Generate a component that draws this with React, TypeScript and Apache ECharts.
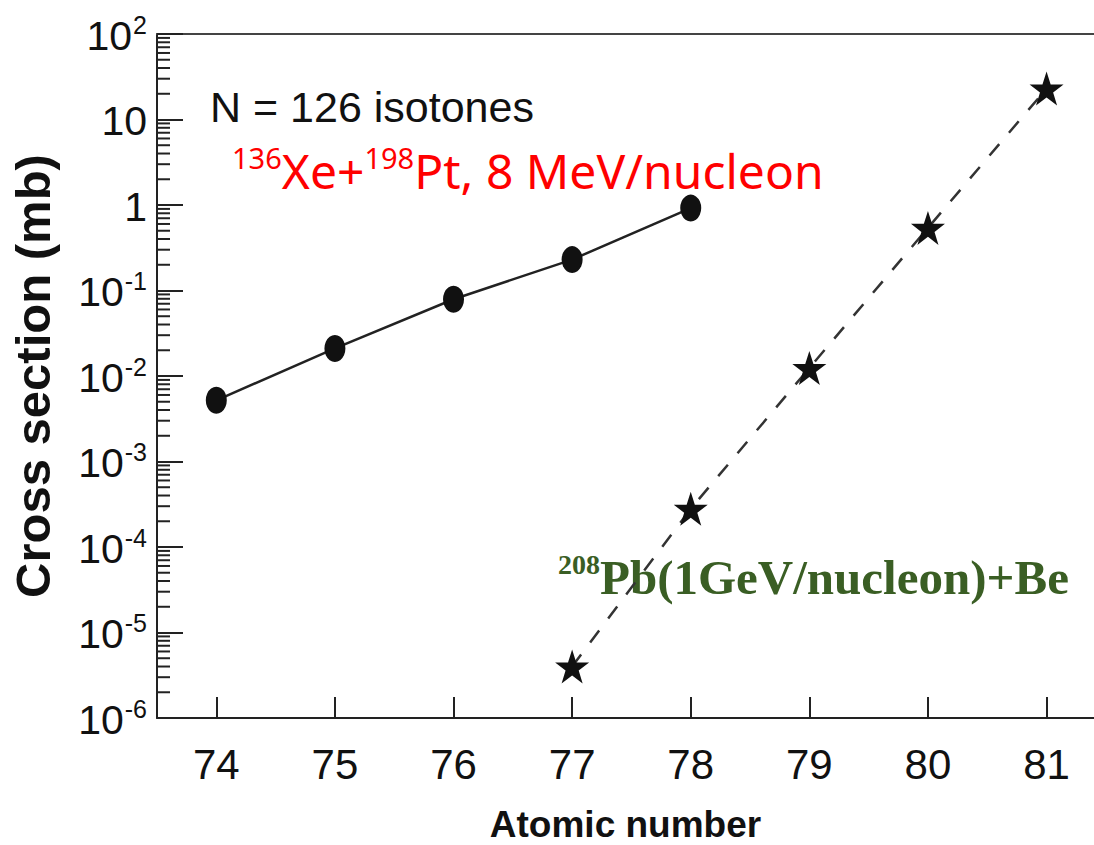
import React, { useEffect, useRef } from "react";
import * as echarts from "echarts";

const X_MIN = 73.5;
const X_MAX = 81.4;
const xTicks = [74, 75, 76, 77, 78, 79, 80, 81];
const yMin = 1e-6;
const yMax = 100;
const decadeExps = [-6, -5, -4, -3, -2, -1, 0, 1];

const xeZ = [74, 75, 76, 77, 78];
const xeSigma = [0.0052, 0.021, 0.079, 0.23, 0.92];

const pbZ = [77, 78, 79, 80, 81];
const pbSigma = [4.0e-6, 2.8e-4, 0.0124, 0.54, 23];

const STAR =
  "path://M50,0 L61.8,35.2 L98.9,35.2 L68.9,57.1 L80.3,92.4 L50,70.6 L19.7,92.4 L31.1,57.1 L1.1,35.2 L38.2,35.2 Z";

const SANS = "'Liberation Sans', Arial, sans-serif";
const AX = "#222";

function yLabel(v: number): string {
  const e = Math.round(Math.log10(v));
  if (e === 0) return "{b|1}";
  if (e === 1) return "{b|10}";
  return "{b|10}{s|" + e + "}";
}

export default function App() {
  const ref = useRef<HTMLDivElement>(null);
  useEffect(() => {
    if (!ref.current) return;
    const chart = echarts.init(ref.current, null, { renderer: "svg" });
    const minorData: number[][] = [];
    decadeExps.forEach((e) => {
      for (let m = 2; m <= 9; m++) minorData.push([X_MIN, m * Math.pow(10, e)]);
    });
    chart.setOption({
      animation: false,
      backgroundColor: "#ffffff",
      grid: { left: 157, top: 34, right: 0, bottom: 127, containLabel: false, outerBoundsMode: "none" },
      xAxis: [
        {
          type: "value",
          min: X_MIN,
          max: X_MAX,
          position: "bottom",
          axisLine: { show: true, lineStyle: { color: AX, width: 2 } },
          axisTick: {
            show: true,
            inside: true,
            length: 21,
            customValues: xTicks,
            lineStyle: { color: AX, width: 2 },
          },
          axisLabel: {
            show: true,
            customValues: xTicks,
            margin: 25,
            fontFamily: SANS,
            fontSize: 42,
            color: "#111",
            formatter: (v: number) => String(v),
          },
          splitLine: { show: false },
          name: "Atomic number",
          nameLocation: "middle",
          nameGap: 88,
          nameTextStyle: {
            fontFamily: SANS,
            fontWeight: "bold",
            fontSize: 37,
            color: "#111",
          },
        },
        {
          type: "value",
          min: X_MIN,
          max: X_MAX,
          position: "top",
          axisLine: { show: true, onZero: false, lineStyle: { color: "#444", width: 2 } },
          axisTick: { show: false },
          axisLabel: { show: false },
          splitLine: { show: false },
        },
      ],
      yAxis: {
        type: "log",
        logBase: 10,
        min: yMin,
        max: yMax,
        axisLine: { show: true, lineStyle: { color: AX, width: 2 } },
        axisTick: { show: true, inside: true, length: 26, lineStyle: { color: AX, width: 2 } },
        minorTick: { show: false },
        splitLine: { show: false },
        axisLabel: {
          margin: 10,
          formatter: (v: number) => yLabel(v),
          rich: {
            b: { fontFamily: SANS, fontSize: 41, color: "#111", verticalAlign: "bottom", lineHeight: 44 },
            s: { fontFamily: SANS, fontSize: 25, color: "#111", verticalAlign: "top", lineHeight: 26, padding: [0, 0, 0, 1] },
          },
        },
        name: "Cross section (mb)",
        nameLocation: "middle",
        nameGap: 100,
        nameTextStyle: {
          fontFamily: SANS,
          fontWeight: "bold",
          fontSize: 49,
          color: "#111",
        },
      },
      series: [
        {
          type: "custom",
          silent: true,
          xAxisIndex: 0,
          data: minorData,
          clip: false,
          renderItem: (params: any, api: any) => {
            const p = api.coord([api.value(0), api.value(1)]);
            return {
              type: "line",
              shape: { x1: p[0], y1: p[1], x2: p[0] + 13, y2: p[1] },
              style: { stroke: AX, lineWidth: 2 },
            };
          },
        },
        {
          type: "line",
          xAxisIndex: 0,
          data: xeZ.map((z, i) => [z, xeSigma[i]]),
          symbol: "circle",
          symbolSize: [21, 27],
          itemStyle: { color: "#111" },
          lineStyle: { color: "#222", width: 2.5, type: "solid" },
          z: 3,
        },
        {
          type: "line",
          xAxisIndex: 0,
          data: pbZ.map((z, i) => [z, pbSigma[i]]),
          symbol: STAR,
          symbolSize: 34,
          itemStyle: { color: "#111" },
          lineStyle: { color: "#333", width: 2.5, type: [15, 15] },
          z: 3,
        },
      ],
      graphic: [
        {
          type: "text",
          x: 210,
          y: 85,
          style: {
            text: "N = 126 isotones",
            fontFamily: SANS,
            fontSize: 43,
            fill: "#111",
          },
        },
        {
          type: "text",
          x: 232,
          y: 143,
          style: {
            text: "{s|136}{m|Xe+}{s|198}{m|Pt, 8 MeV/nucleon}",
            rich: {
              s: { fontFamily: "'Noto Sans', sans-serif", fontSize: 29, fill: "#ff0000", verticalAlign: "top", lineHeight: 29 },
              m: { fontFamily: "'Noto Sans', sans-serif", fontSize: 48, fill: "#ff0000", verticalAlign: "bottom", lineHeight: 51 },
            },
          },
        },
        {
          type: "text",
          x: 558,
          y: 550,
          style: {
            text: "{s|208}{m|Pb(1GeV/nucleon)+Be}",
            rich: {
              s: { fontFamily: "'Liberation Serif', serif", fontWeight: "bold", fontSize: 28, fill: "#3a5e24", verticalAlign: "top", lineHeight: 28 },
              m: { fontFamily: "'Liberation Serif', serif", fontWeight: "bold", fontSize: 49, fill: "#3a5e24", verticalAlign: "bottom", lineHeight: 52 },
            },
          },
        },
      ],
    });
    return () => chart.dispose();
  }, []);
  return (
    <div
      ref={ref}
      style={{ position: "absolute", left: 0, top: 0, width: 1094, height: 845, background: "#fff" }}
    />
  );
}
